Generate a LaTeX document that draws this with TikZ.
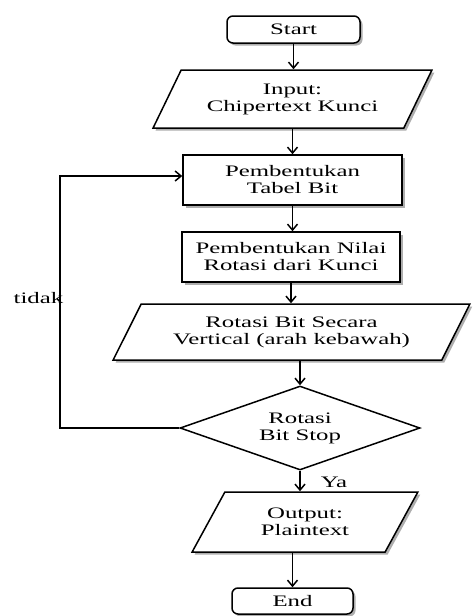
\documentclass[tikz,border=0pt]{standalone}
\usepackage{fontspec}
\setmainfont[FakeStretch=1.55]{Liberation Serif}
\usetikzlibrary{shapes.geometric,shadows,arrows.meta}
\begin{document}
\begin{tikzpicture}[x=1pt,y=-1pt,line width=1.5pt,
  every node/.style={font=\fontsize{16}{17}\selectfont},
  shad/.style={drop shadow={shadow xshift=2.5pt,shadow yshift=-2.5pt,opacity=0.45,fill=black!70}},
  termbox/.style={draw,rounded corners=6pt,shad,fill=white,align=center,inner sep=0pt},
  procbox/.style={draw,fill=white,shad,align=center,inner sep=0pt},
  iobox/.style={trapezium,trapezium stretches=true,draw,fill=white,shad,align=center,inner sep=0pt},
  decbox/.style={diamond,draw,fill=white,align=center,inner sep=0pt,aspect=2.8},
  arrowline/.style={-{Straight Barb[length=6pt,width=10pt]},line width=1.5pt}]
\useasboundingbox (0,0) rectangle (472,616);

\node[termbox,minimum width=133pt,minimum height=27pt] (start) at (293.5,29.5) {Start};
\node[iobox,trapezium left angle=55,trapezium right angle=125,minimum width=279pt,minimum height=58pt] (input) at (292.5,99) {Input:\\Chipertext Kunci};
\node[procbox,minimum width=219pt,minimum height=50pt] (tabel) at (292.5,180) {Pembentukan\\Tabel Bit};
\node[procbox,minimum width=218pt,minimum height=50pt] (nilai) at (291,257) {Pembentukan Nilai\\Rotasi dari Kunci};
\node[iobox,trapezium left angle=54.5,trapezium right angle=125.5,minimum width=357pt,minimum height=56pt] (rotasi) at (291.5,332) {Rotasi Bit Secara\\Vertical (arah kebawah)};
\node[decbox,minimum width=240pt,minimum height=84pt] (dec) at (300,428) {Rotasi\\Bit Stop};
\node[iobox,trapezium left angle=57,trapezium right angle=123,minimum width=226pt,minimum height=60pt] (output) at (305,522) {Output:\\Plaintext};
\node[termbox,minimum width=121pt,minimum height=26pt] (end) at (292.5,601) {End};

\draw[arrowline] (start.south) -- (start.south |- input.north);
\draw[arrowline] (input.south) -- (input.south |- tabel.north);
\draw[arrowline] (tabel.south) -- (tabel.south |- nilai.north);
\draw[arrowline] (nilai.south) -- (nilai.south |- rotasi.north);
\draw[arrowline] (dec.north |- rotasi.south) -- (dec.north);
\draw[arrowline] (dec.south) -- (dec.south |- output.north);
\draw[arrowline] (end.north |- output.south) -- (end.north);

\coordinate (lp) at (60,176);
\draw[arrowline] (dec.west) -| (lp) -- (lp -| tabel.west);

\node[anchor=east,inner sep=0pt] (tidak) at (64,298) {tidak};
\node[anchor=west,inner sep=0pt] (ya) at (320,482) {Ya};
\end{tikzpicture}
\end{document}
